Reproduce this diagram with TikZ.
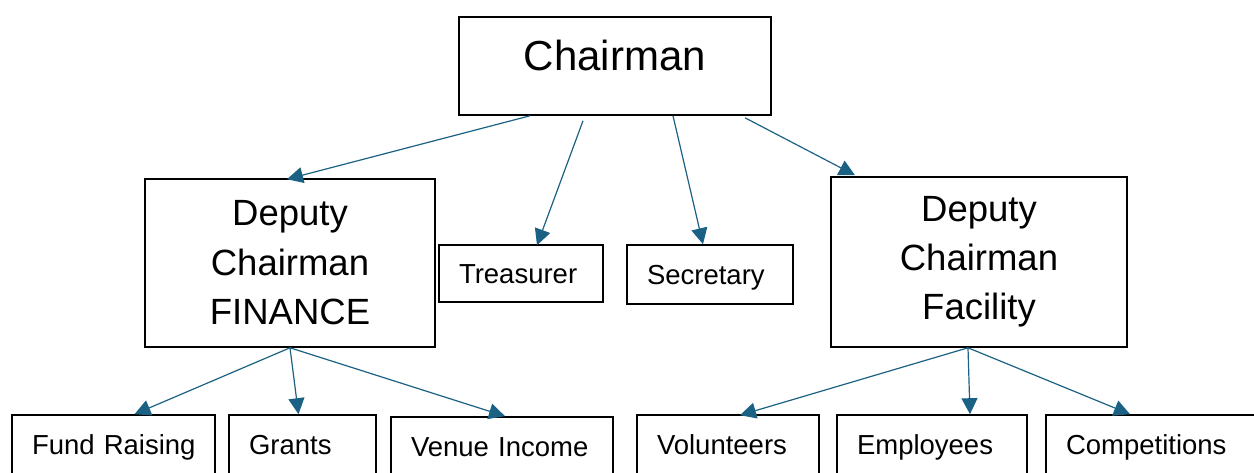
\documentclass[tikz,border=0pt]{standalone}
\usepackage{fontspec}
\setmainfont{Liberation Sans}
\usetikzlibrary{arrows.meta}
\definecolor{arrowc}{HTML}{1B6183}
\begin{document}
\begin{tikzpicture}[x=1pt,y=-1pt,
  box/.style={draw=black,line width=1.6pt,inner sep=0pt,align=center},
  small/.style={draw=black,line width=1.6pt,inner ysep=0pt,inner xsep=20pt,align=left,
    text height=21pt,text depth=0pt,font=\fontsize{27.5}{32}\selectfont},
  low/.style={small,minimum height=70pt,text depth=13pt},
  link/.style={draw=arrowc,line width=1.2pt,-{Triangle[length=16pt,width=16pt]}}]
\useasboundingbox (0,0) rectangle (1254,473);
\clip (0,0) rectangle (1254,473);
\node[box,minimum width=312pt,minimum height=98pt,font=\fontsize{42}{48}\selectfont] (chair) at (615,66) {\raisebox{22pt}{Chairman}};
\node[box,minimum width=290pt,minimum height=168pt,font=\fontsize{36.5}{49.5}\selectfont] (fin) at (290,263) {Deputy\\Chairman\\FINANCE};
\node[box,minimum width=296pt,minimum height=170pt,font=\fontsize{36.5}{49}\selectfont] (fac) at (979,262) {Deputy\\Chairman\\Facility};
\node[small,text width=124pt,minimum height=57pt] (treas) at (521,273.5) {Treasurer};
\node[small,text width=126pt,minimum height=59pt] (sec) at (710,274.5) {Secretary};
\node[low,text width=163pt] (fund) at (113.5,450) {\mbox{Fund Raising}};
\node[low,text width=107pt] (grants) at (302.5,450) {Grants};
\node[low,text width=182pt] (venue) at (502,452) {\mbox{Venue Income}};
\node[low,text width=142pt] (vol) at (728,450) {Volunteers};
\node[low,text width=150pt] (emp) at (932,450) {Employees};
\node[low,text width=172pt] (comp) at (1152,450) {Competitions};
\path[link] ([xshift=-85pt]chair.south) -- ([xshift=-3pt,yshift=-1pt]fin.north);
\path[link] ([xshift=-32pt,yshift=-5pt]chair.south) -- ([xshift=16pt,yshift=-1pt]treas.north);
\path[link] ([xshift=58pt]chair.south) -- ([xshift=-7pt]sec.north);
\path[link] ([xshift=130pt,yshift=-2pt]chair.south) -- ([xshift=-124pt,yshift=1pt]fac.north);
\path[link] (fin.south) -- ([xshift=21pt]fund.north);
\path[link] (fin.south) -- ([xshift=-4pt]grants.north);
\path[link] (fin.south) -- ([xshift=3pt]venue.north);
\path[link] ([xshift=-11pt]fac.south) -- ([xshift=12pt,yshift=-1pt]vol.north);
\path[link] ([xshift=-11pt]fac.south) -- ([xshift=38pt]emp.north);
\path[link] ([xshift=-11pt]fac.south) -- ([xshift=-22pt]comp.north);
\end{tikzpicture}
\end{document}
